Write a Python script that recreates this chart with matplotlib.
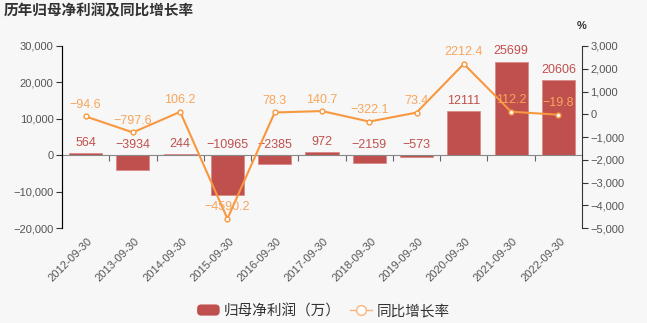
import matplotlib
matplotlib.use('Agg')
import matplotlib.pyplot as plt
from matplotlib.ticker import FuncFormatter
from matplotlib.patches import FancyBboxPatch, Rectangle
from matplotlib.lines import Line2D
from matplotlib.legend_handler import HandlerPatch
import matplotlib.transforms as mtransforms

plt.rcParams['font.family'] = ['Liberation Sans', 'Noto Sans CJK SC', 'DejaVu Sans']

dates = ['2012-09-30', '2013-09-30', '2014-09-30', '2015-09-30', '2016-09-30',
         '2017-09-30', '2018-09-30', '2019-09-30', '2020-09-30', '2021-09-30',
         '2022-09-30']
profit = [564, -3934, 244, -10965, -2385, 972, -2159, -573, 12111, 25699, 20606]
growth = [-94.6, -797.6, 106.2, -4590.2, 78.3, 140.7, -322.1, 73.4, 2212.4, 112.2, -19.8]

bg = '#f7f7f7'
bar_c = '#c0504d'
line_c = '#f7983f'
lab_c = '#f8a55c'
axis_c = '#333333'
tick_txt = '#555555'

fig = plt.figure(figsize=(6.47, 3.23), dpi=100, facecolor=bg)
ax = fig.add_axes([0.0958, 0.294, 0.8037, 0.5636], facecolor=bg)
ax2 = ax.twinx()

x = list(range(len(dates)))

def fmt(v, pos=None):
    s = '{:,.0f}'.format(abs(v))
    return ('\u2212' + s) if v < 0 else s

# bars
ax.bar(x, profit, width=0.7, color=bar_c, edgecolor='#d98a88', linewidth=0.6, zorder=2)
for xi, v in zip(x, profit):
    ax.annotate(fmt(v).replace(',', ''), (xi, max(v, 0)), xytext=(0, 3),
                textcoords='offset points', ha='center', va='bottom',
                color=bar_c, fontsize=9, zorder=5)

ax.set_xlim(-0.5, len(dates) - 0.5)
ax.set_ylim(-20000, 30000)
ax.set_yticks([-20000, -10000, 0, 10000, 20000, 30000])
ax.yaxis.set_major_formatter(FuncFormatter(fmt))

# x axis at zero with boundary ticks
ax.spines['bottom'].set_position(('data', 0))
ax.spines['bottom'].set_color('#888888')
ax.set_xticks([i + 0.5 for i in range(len(dates) - 1)])
ax.set_xticklabels([])
ax.tick_params(axis='x', length=4, color='#666666', direction='out')
trans = mtransforms.blended_transform_factory(ax.transData, ax.transAxes)
for xi, d in zip(x, dates):
    ax.text(xi + 0.03, -0.045, d, transform=trans, rotation=45, ha='right', va='top',
            rotation_mode='anchor', fontsize=8, color=tick_txt)

for a in (ax, ax2):
    a.spines['top'].set_visible(False)
ax.spines['right'].set_visible(False)
ax2.spines['bottom'].set_visible(False)
ax.spines['left'].set_color(axis_c)
ax2.spines['right'].set_color(axis_c)
ax.tick_params(axis='y', length=4, color=axis_c, labelsize=8, labelcolor=tick_txt, pad=2)

# line
ax2.plot(x, growth, color=line_c, linewidth=1.5, marker='o', markersize=3.5,
         markerfacecolor='white', markeredgecolor=line_c, zorder=4)
for xi, v in zip(x, growth):
    s = '{:.1f}'.format(abs(v))
    s = ('\u2212' + s) if v < 0 else s
    ax2.annotate(s, (xi, v), xytext=(0, 4), textcoords='offset points',
                 ha='center', va='bottom', color=lab_c, fontsize=9, zorder=6)
ax2.set_ylim(-5000, 3000)
ax2.set_yticks(range(-5000, 3001, 1000))
ax2.yaxis.set_major_formatter(FuncFormatter(fmt))
ax2.tick_params(axis='y', length=4, color=axis_c, labelsize=8, labelcolor=tick_txt, pad=2)
ax2.text(1.0, 1.08, '%', transform=ax2.transAxes, ha='center', va='bottom',
         fontsize=8, color=axis_c, fontweight='bold')

fig.text(0.006, 0.966, '历年归母净利润及同比增长率', fontsize=10.5, fontweight='bold',
         color='#333333', ha='left', va='center')

# legend
class RoundRect(HandlerPatch):
    def create_artists(self, legend, orig, xd, yd, w, h, fs, trans):
        p = FancyBboxPatch((-xd, -yd), w, h, boxstyle='round,pad=0,rounding_size=3',
                           facecolor=bar_c, edgecolor='none', transform=trans)
        return [p]

h1 = Rectangle((0, 0), 1, 1, color=bar_c)
h2 = Line2D([], [], color='#f9b57a', linewidth=1, marker='o', markersize=7,
            markerfacecolor='white', markeredgecolor='#f9b57a')
fig.legend([h1, h2], ['归母净利润（万）', '同比增长率'], loc='center',
           bbox_to_anchor=(0.5, 0.037), ncol=2, frameon=False, fontsize=10.5,
           handler_map={Rectangle: RoundRect()}, handlelength=1.55, handleheight=0.8,
           columnspacing=0.6, handletextpad=0.3, labelcolor='#333333')

fig.savefig('out.png', dpi=100, facecolor=bg)
